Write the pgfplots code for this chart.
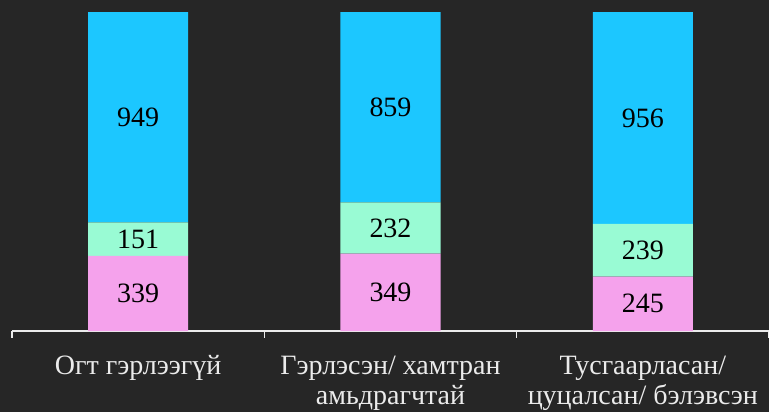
\documentclass[border=0pt]{standalone}
\usepackage{fontspec}
\setmainfont{Liberation Serif}
\usepackage{pgfplots}
\pgfplotsset{compat=1.18}
\definecolor{bg}{RGB}{38,38,38}
\definecolor{pinkbar}{RGB}{245,162,236}
\definecolor{greenbar}{RGB}{153,251,212}
\definecolor{cyanbar}{RGB}{28,199,255}
\definecolor{axcol}{RGB}{235,235,235}
\begin{document}
\begin{tikzpicture}[x=1pt,y=1pt]
\fill[bg] (0,0) rectangle (576.75,309);
\begin{axis}[at={(9pt,60.75pt)}, anchor=south west,
scale only axis, width=567.75pt, height=239.25pt,
xmin=-0.5, xmax=2.5, ymin=0, ymax=1440,
ybar stacked, bar width=75pt,
axis y line=none, axis x line*=bottom,
x axis line style={draw=axcol, line width=1.1pt},
xtick={0,1,2},
xticklabels={Огт гэрлээгүй,{Гэрлэсэн/ хамтран\\амьдрагчтай},{Тусгаарласан/\\цуцалсан/ бэлэвсэн}},
major tick length=0pt,
minor xtick={-0.5,0.5,1.5,2.5}, minor tick length=5pt, xtick align=outside,
minor tick style={draw=axcol, line width=1.1pt},
xticklabel style={text=axcol, font=\fontsize{21}{22.5}\selectfont, align=center, yshift=-15pt},
/pgf/number format/assume math mode=true,
point meta=explicit,
nodes near coords={\pgfmathprintnumber{\pgfplotspointmeta}},
every node near coord/.append style={text=black, font=\fontsize{21}{24}\selectfont, anchor=center},
]
\addplot[fill=pinkbar, draw=none] table[x=x, y=v, meta=v] {
x v
0 339
1 349
2 245
};
\addplot[fill=greenbar, draw=none] table[x=x, y=v, meta=v] {
x v
0 151
1 232
2 239
};
\addplot[fill=cyanbar, draw=none] table[x=x, y=v, meta=v] {
x v
0 949
1 859
2 956
};
\end{axis}
\pgfresetboundingbox
\useasboundingbox (0,0) rectangle (576.75,309);
\end{tikzpicture}
\end{document}
